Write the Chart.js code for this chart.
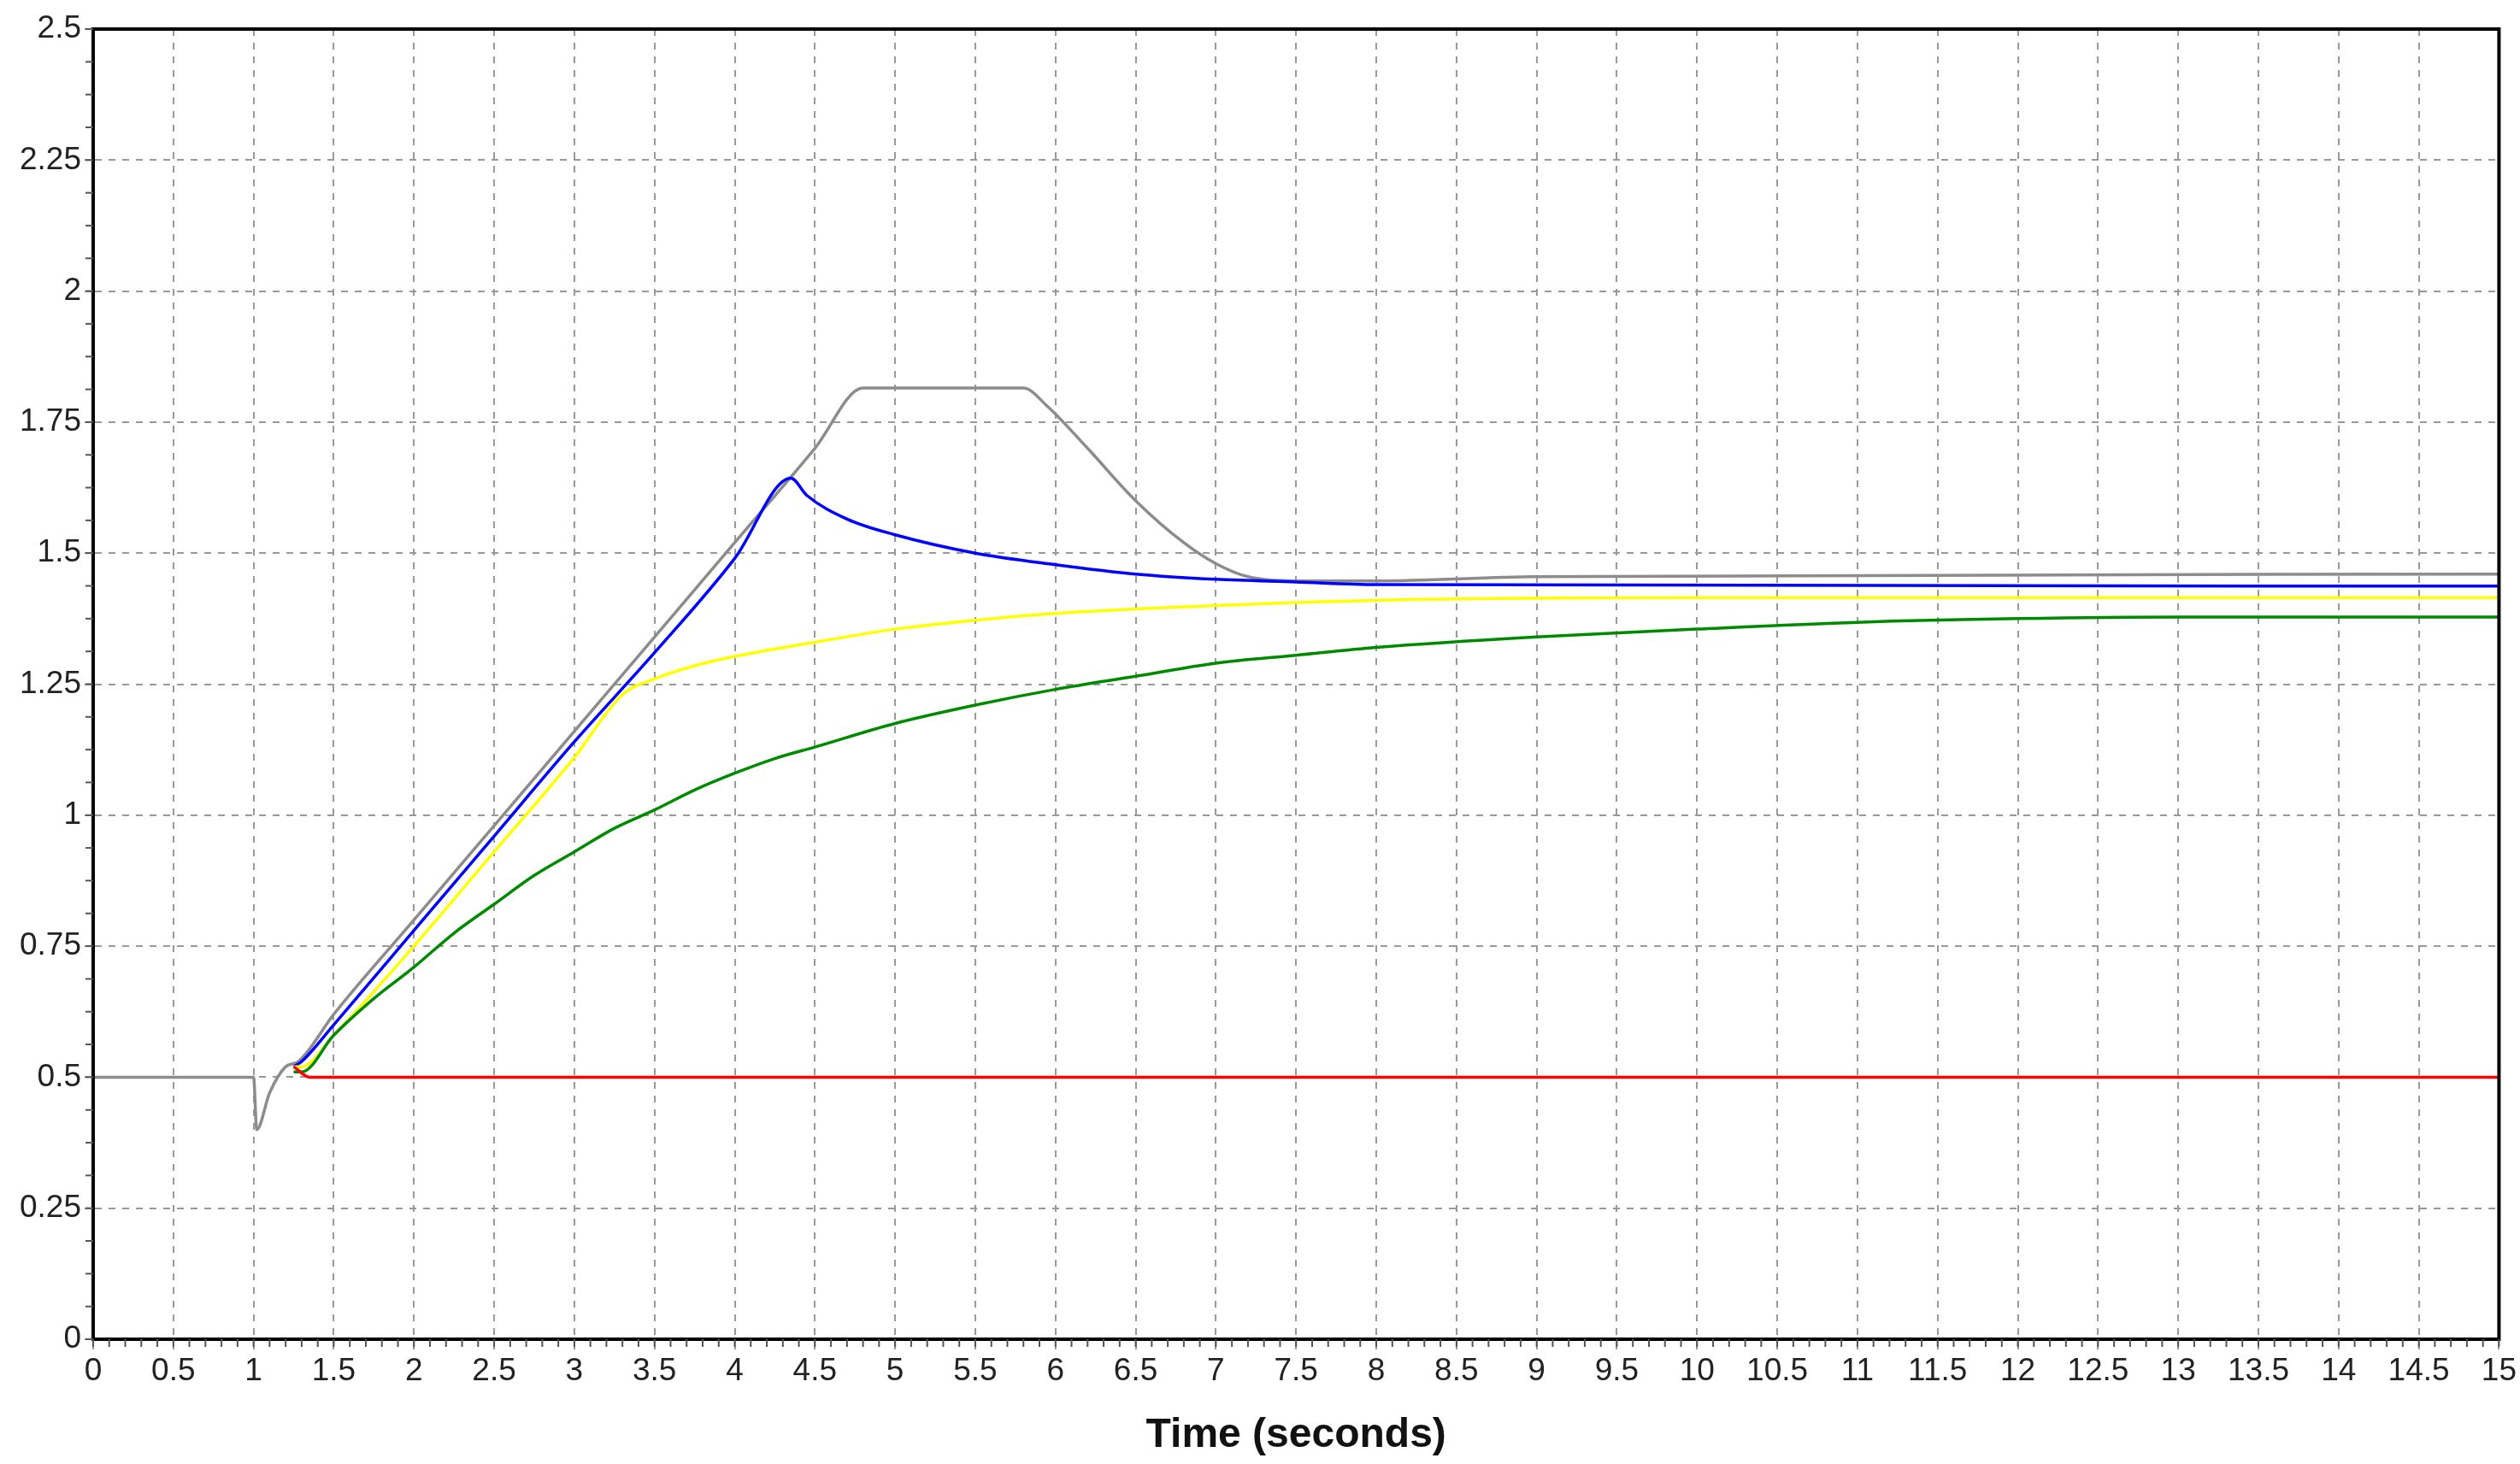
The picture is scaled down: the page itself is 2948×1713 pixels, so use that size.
<!DOCTYPE html>
<html><head><meta charset="utf-8">
<script src="https://cdn.jsdelivr.net/npm/chart.js@4/dist/chart.umd.min.js"></script>
<style>html,body{margin:0;padding:0;background:#fff}#wrap{width:2948px;height:1713px}</style>
</head><body><div id="wrap"><canvas id="c"></canvas></div>
<script>
const grayT = [0,1,1.02,1.1,1.2,1.28,1.5,2,2.5,3,3.5,4,4.5,4.8,5.8,5.95,6.2,6.5,6.8,7,7.2,7.5,8,9,15];
const grayV = [0.5,0.5,0.4,0.47,0.52,0.53,0.62,0.8,0.98,1.16,1.34,1.52,1.7,1.815,1.815,1.78,1.70,1.60,1.52,1.48,1.455,1.447,1.447,1.455,1.46];
const blueT = [1.25,1.3,1.5,2,2.5,3,3.5,4,4.35,4.45,4.7,5,5.5,6,6.5,7,7.5,8,15];
const blueV = [0.52,0.53,0.6,0.78,0.96,1.14,1.31,1.49,1.643,1.61,1.565,1.535,1.5,1.478,1.46,1.45,1.445,1.44,1.437];
const yellowT = [1.25,1.3,1.5,2,2.5,3,3.3,3.5,3.75,4,4.5,5,5.5,6,7,8,10,15];
const yellowV = [0.52,0.52,0.58,0.75,0.93,1.11,1.23,1.26,1.285,1.303,1.33,1.355,1.372,1.385,1.40,1.41,1.415,1.415];
const greenT = [1.25,1.3,1.5,1.75,2,2.25,2.5,2.75,3,3.25,3.5,3.75,4,4.25,4.5,5,5.5,6,6.5,7,7.5,8,9,10,11,12,13,15];
const greenV = [0.51,0.51,0.58,0.65,0.71,0.775,0.83,0.885,0.93,0.975,1.01,1.048,1.08,1.108,1.13,1.175,1.21,1.24,1.265,1.29,1.305,1.32,1.34,1.355,1.368,1.375,1.378,1.378];
const redT = [1.25,1.35,15];
const redV = [0.52,0.5,0.5];
const xTicks = [0,0.5,1,1.5,2,2.5,3,3.5,4,4.5,5,5.5,6,6.5,7,7.5,8,8.5,9,9.5,10,10.5,11,11.5,12,12.5,13,13.5,14,14.5,15];
const yTicks = [0,0.25,0.5,0.75,1,1.25,1.5,1.75,2,2.25,2.5];

const pts = (t,v)=>t.map((x,i)=>({x:x,y:v[i]}));
const ds = (t,v,c)=>({data:pts(t,v),borderColor:c,borderWidth:3.5,pointRadius:0,tension:0.3,cubicInterpolationMode:'monotone',fill:false});

const frame = {id:'frame',afterDraw(ch){
  const {ctx,chartArea:a,scales:{x,y}}=ch;
  ctx.save();
  ctx.strokeStyle='#000';ctx.lineWidth=4;
  ctx.strokeRect(a.left,a.top,a.right-a.left,a.bottom-a.top);
  ctx.strokeStyle='#555';ctx.lineWidth=2;
  for(let v=0;v<=15.0001;v+=0.1){const px=x.getPixelForValue(v);ctx.beginPath();ctx.moveTo(px,a.bottom);ctx.lineTo(px,a.bottom+9);ctx.stroke();}
  for(let v=0;v<=2.5001;v+=0.0625){const py=y.getPixelForValue(v);ctx.beginPath();ctx.moveTo(a.left-9,py);ctx.lineTo(a.left,py);ctx.stroke();}
  ctx.restore();
}};

new Chart(document.getElementById('c'),{
  type:'line',
  data:{datasets:[ds(redT,redV,'#ff0000'),ds(greenT,greenV,'#008a00'),ds(yellowT,yellowV,'#ffff00'),ds(blueT,blueV,'#0000ff'),ds(grayT,grayV,'#8c8c8c')]},
  options:{responsive:true,maintainAspectRatio:false,animation:false,
    layout:{padding:{top:34,right:24,left:0,bottom:0}},
    plugins:{legend:{display:false},tooltip:{enabled:false}},
    scales:{
      x:{type:'linear',min:0,max:15,
        afterBuildTicks(s){s.ticks=xTicks.map(v=>({value:v}));},
        afterFit(s){s.height=146;},
        grid:{color:'#999',lineWidth:2,tickLength:12,drawTicks:true,tickColor:'#999'},
        border:{display:true,color:'#000',width:4,dash:[8,8]},
        ticks:{color:'#222',font:{family:'Liberation Sans',size:37},maxRotation:0,autoSkip:false,padding:4,callback:v=>String(v)},
        title:{display:true,text:'Time (seconds)',color:'#111',font:{family:'Liberation Sans',size:48,weight:'bold'},padding:{top:0}}
      },
      y:{min:0,max:2.5,
        afterBuildTicks(s){s.ticks=yTicks.map(v=>({value:v}));},
        afterFit(s){s.width=109;},
        grid:{color:'#999',lineWidth:2,tickLength:10,tickColor:'#999'},
        border:{display:true,color:'#000',width:4,dash:[8,8]},
        ticks:{color:'#222',font:{family:'Liberation Sans',size:37},padding:4,callback:v=>String(v)}
      }
    }
  },
  plugins:[frame]
});
</script></body></html>
